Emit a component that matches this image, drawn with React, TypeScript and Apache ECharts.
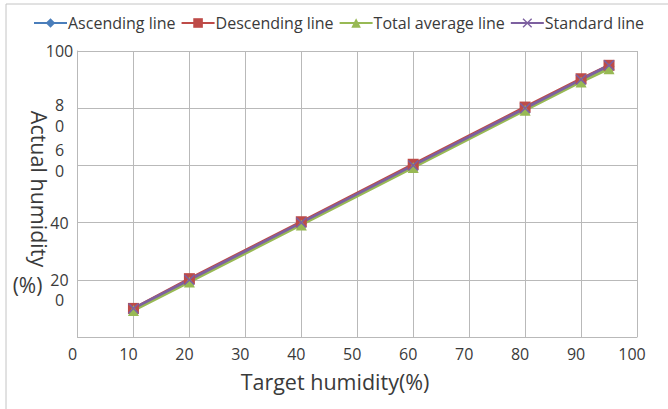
import React, { useEffect, useRef } from "react";
import * as echarts from "echarts";

const targets = [10, 20, 40, 60, 80, 90, 95];
const ascending = [9.6, 19.8, 39.7, 59.8, 79.8, 89.7, 94.6];
const descending = [10.0, 20.4, 40.3, 60.4, 80.4, 90.3, 95.0];
const totalAverage = [9.3, 19.2, 39.2, 59.3, 79.3, 89.2, 93.8];
const standard = [10, 20, 40, 60, 80, 90, 95];

const seriesNames = ["Ascending line", "Descending line", "Total average line", "Standard line"];
const xTicks = [0, 10, 20, 30, 40, 50, 60, 70, 80, 90, 100];
const yTicks = [0, 20, 40, 60, 80, 100];
const yTickText = ["0", "20", "40", "6\n0", "8\n0", "100"];
const yTickStyle = ["lift0", "plain", "plain", "lift60", "drop80", "plain"];

const xTitle = "Target humidity(%)";
const yTitle = "Actual humidity";
const yTitleUnit = "(%)";

const FONT = "'Open Sans', 'Noto Sans', sans-serif";
const TEXT = "#3a3a3a";
const GRID = "#b9b9b9";

const X_SYMBOL = "path://M0,1 L1,0 L5,4 L9,0 L10,1 L6,5 L10,9 L9,10 L5,6 L1,10 L0,9 L4,5 Z";

function pairs(ys: number[]) {
  return targets.map((x, i) => [x, ys[i]]);
}

export default function App() {
  const ref = useRef<HTMLDivElement>(null);
  useEffect(() => {
    document.body.style.margin = "0";
    if (!ref.current) return;
    const chart = echarts.init(ref.current, undefined, { renderer: "svg" });
    const mk = (name: string, data: number[], color: string, symbol: string, size: number) => ({
      name,
      type: "line",
      data: pairs(data),
      symbol,
      symbolSize: size,
      showSymbol: true,
      lineStyle: { color, width: 2.75 },
      itemStyle: { color },
    });
    chart.setOption({
      animation: false,
      backgroundColor: "#ffffff",
      textStyle: { fontFamily: FONT },
      legend: {
        data: seriesNames,
        left: 28,
        top: 10,
        itemWidth: 33,
        itemHeight: 12,
        itemGap: 5,
        textStyle: { fontFamily: FONT, fontSize: 16, color: TEXT, padding: [0, 0, 0, -4] },
      },
      grid: { left: 77.5, right: 31, top: 51, bottom: 72 },
      xAxis: {
        type: "value",
        min: xTicks[0],
        max: xTicks[xTicks.length - 1],
        interval: 10,
        axisLine: { show: true, lineStyle: { color: GRID, width: 1 } },
        axisTick: { show: false },
        splitLine: { show: true, lineStyle: { color: GRID, width: 1 } },
        axisLabel: {
          fontFamily: FONT,
          fontSize: 16,
          color: TEXT,
          margin: 9,
          padding: [0, 10, 0, 0],
        },
      },
      yAxis: {
        type: "value",
        min: yTicks[0],
        max: yTicks[yTicks.length - 1],
        interval: 20,
        axisLine: { show: true, lineStyle: { color: GRID, width: 1 } },
        axisTick: { show: false },
        splitLine: { show: true, lineStyle: { color: GRID, width: 1 } },
        axisLabel: {
          fontFamily: FONT,
          fontSize: 16,
          color: TEXT,
          align: "center",
          margin: 18,
          formatter: (v: number) => {
            const i = yTicks.indexOf(v);
            if (i < 0) return "";
            return yTickText[i]
              .split("\n")
              .map((t) => `{${yTickStyle[i]}|${t}}`)
              .join("\n");
          },
          rich: {
            plain: { fontFamily: FONT, fontSize: 16, color: TEXT, lineHeight: 21 },
            lift0: { fontFamily: FONT, fontSize: 16, color: TEXT, lineHeight: 21, padding: [0, 0, 74, 0] },
            lift60: { fontFamily: FONT, fontSize: 16, color: TEXT, lineHeight: 21.5, padding: [0, 0, 10, 0] },
            drop80: { fontFamily: FONT, fontSize: 16, color: TEXT, lineHeight: 21.5, padding: [15, 0, 0, 0] },
          },
        },
      },
      graphic: [
        {
          type: "rect",
          silent: true,
          shape: { x: 6, y: 4, width: 720, height: 460 },
          style: { fill: "none", stroke: "#c4c4c4", lineWidth: 1 },
        },
        {
          type: "text",
          x: 335,
          y: 381,
          style: {
            text: xTitle,
            fontFamily: FONT,
            fontSize: 21.5,
            fill: TEXT,
            align: "center",
            verticalAlign: "middle",
          },
        },
        {
          type: "text",
          x: 39,
          y: 189,
          rotation: -Math.PI / 2,
          style: {
            text: yTitle,
            fontFamily: FONT,
            fontSize: 21.5,
            fill: TEXT,
            align: "center",
            verticalAlign: "middle",
          },
        },
        {
          type: "text",
          x: 27.5,
          y: 285,
          style: {
            text: yTitleUnit,
            fontFamily: FONT,
            fontSize: 21,
            fill: TEXT,
            align: "center",
            verticalAlign: "middle",
          },
        },
      ],
      series: [
        mk(seriesNames[0], ascending, "#4a7ebb", "diamond", 11),
        mk(seriesNames[1], descending, "#be4b48", "rect", 11),
        mk(seriesNames[2], totalAverage, "#98b954", "triangle", 11),
        mk(seriesNames[3], standard, "#7d60a0", X_SYMBOL, 11),
      ],
    });
    return () => chart.dispose();
  }, []);
  return <div ref={ref} style={{ width: 668, height: 409 }} />;
}
